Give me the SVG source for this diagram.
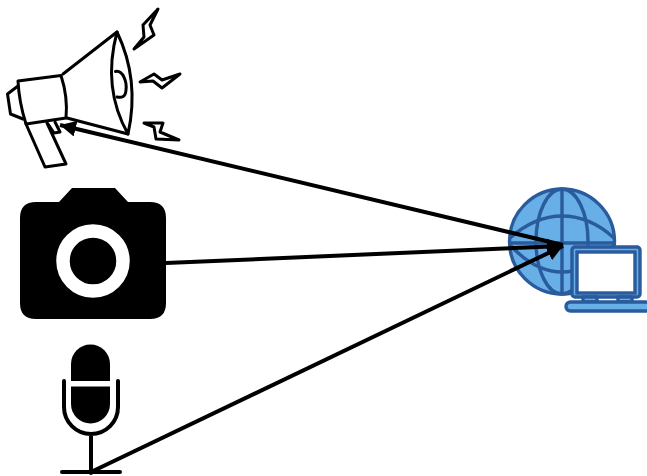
<svg xmlns="http://www.w3.org/2000/svg" width="647" height="476" viewBox="0 0 647 476">
<style>
.o{fill:none;stroke:#000;stroke-width:3;stroke-linejoin:round;stroke-linecap:round}
.b{fill:#68afe8;stroke:#2a5b9c;stroke-width:3.400;stroke-linejoin:round}
.bl{fill:none;stroke:#2a5b9c;stroke-width:3.400}
.c{fill:none;stroke:#000;stroke-width:4}
</style>
<defs>
<marker id="a" markerUnits="userSpaceOnUse" markerWidth="18" markerHeight="16" refX="16" refY="8" orient="auto"><path d="M0 0L16 8L0 16Z" fill="#000"/></marker>
</defs>
<rect width="647" height="476" fill="#fff"/>
<g id="megaphone">
<path class="o" d="M18 81L61 75.500Q68 97 66 118L26 124Q19 102 18 81Z"/>
<path class="o" d="M18 86L7.500 94L10.500 114L23 119"/>
<path class="o" d="M63 74L117 32M67 118L128 134"/>
<path class="o" d="M117 32Q140 80 128 134Q102 88 117 32Z"/>
<path class="o" d="M115.500 71.500C123 70 127 82 126 90C125.500 97 122 98 117 97"/>
<path class="o" d="M26 124L45 167L66 164L47 123"/>
<path class="o" d="M48 124L54 133L60 132L55 122"/>
<path class="o" d="M158 9L143 25L144 37L134 49L154 35L150 25Z"/>
<path class="o" d="M140 82L154 74L162 80L180 74L162 88L153 81Z"/>
<path class="o" d="M144 123H163L160 132L179 140L156 139L154 127Z"/>
</g>
<g id="camera">
<path fill="#000" d="M36 202H59L72 188H115L128 202H150Q166 202 166 218V303Q166 319 150 319H36Q20 319 20 303V218Q20 202 36 202Z"/>
<circle cx="93" cy="261" r="30" fill="#000" stroke="#fff" stroke-width="13.500"/>
</g>
<g id="microphone">
<path fill="#000" d="M71 381V364A19.500 19.500 0 0 1 110 364V381Z"/>
<path fill="#000" d="M71 386.500H110V404A19.500 19.500 0 0 1 71 404Z"/>
<path fill="none" stroke="#000" stroke-width="4" stroke-linecap="round" d="M64 381V407A27 27 0 0 0 118 407V381M91 435V473M62 472H120"/>
</g>
<g id="globe-laptop">
<circle class="b" cx="562" cy="241.500" r="52.500"/>
<path class="bl" d="M562 189V294M510 243H614"/>
<ellipse class="bl" cx="562" cy="241.500" rx="26" ry="52.500"/>
<path class="bl" d="M510 238Q535 216 562 216Q590 216 614 238M510 245Q535 272 562 272Q590 272 614 245"/>
<rect class="b" x="572" y="247" width="68" height="50" rx="3"/>
<rect x="577" y="252" width="58" height="41" fill="#fff" stroke="#2a5b9c" stroke-width="3.400"/>
<path class="b" d="M583 297H597V302H583ZM618 297H632V302H618Z"/>
<rect class="b" x="566" y="302" width="84" height="9" rx="4.500"/>
</g>
<g id="connectors">
<path class="c" marker-end="url(#a)" d="M563 245L60 125"/>
<path class="c" marker-end="url(#a)" d="M166 263L563 246"/>
<path class="c" marker-end="url(#a)" d="M91 472L563 246"/>
</g>
</svg>
